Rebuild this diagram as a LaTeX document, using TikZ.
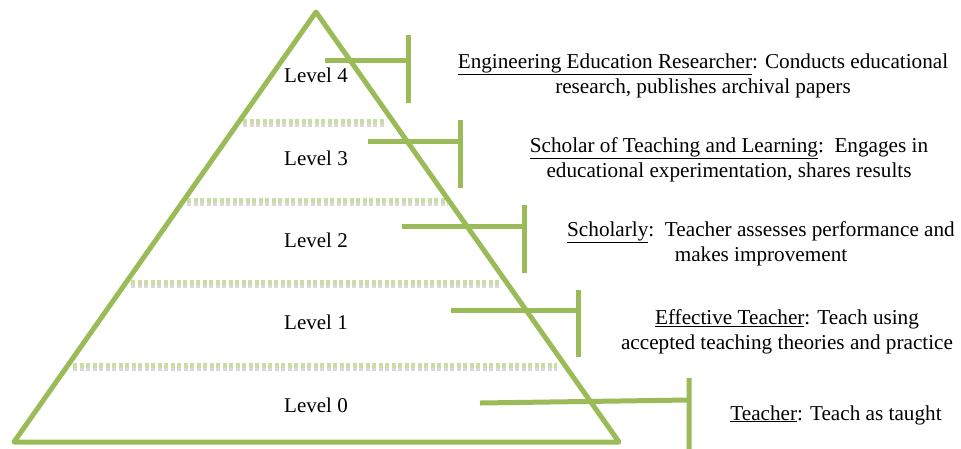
\documentclass[tikz,border=0pt]{standalone}
\usepackage{fontspec}
\setmainfont{Liberation Serif}
\definecolor{olivegreen}{HTML}{9BBB59}
\definecolor{palegreen}{HTML}{CADDA6}
\begin{document}
\begin{tikzpicture}[x=1pt,y=-1pt,
  greenline/.style={draw=olivegreen, line width=5pt},
  dotline/.style={draw=palegreen, line width=5pt, dash pattern=on 4pt off 2.5pt},
  dotshadow/.style={draw=black!15, line width=6pt, dash pattern=on 4pt off 2.5pt},
  levellabel/.style={font=\fontsize{21}{25}\selectfont},
  desc/.style={align=center, font=\fontsize{21.2}{25}\selectfont, inner sep=0pt}]
\useasboundingbox (0,0) rectangle (961,448);
% pyramid
\coordinate (top) at (316,12);
\coordinate (bl) at (14,442);
\coordinate (br) at (619,442);
% level separators
\draw[dotshadow] (243,124)--(386,124);
\draw[dotline] (243,121)--(386,121);
\draw[dotshadow] (187,203)--(448,203);
\draw[dotline] (187,200)--(448,200);
\draw[dotshadow] (131,285)--(500,285);
\draw[dotline] (131,282)--(500,282);
\draw[dotshadow] (73,368)--(557,368);
\draw[dotline] (73,365)--(557,365);
\draw[greenline, line join=round] (top)--(br)--(bl)--cycle;
\node[levellabel] (l4) at (316,75) {Level 4};
\node[levellabel] (l3) at (316,158) {Level 3};
\node[levellabel] (l2) at (316,240) {Level 2};
\node[levellabel] (l1) at (316,322) {Level 1};
\node[levellabel] (l0) at (316,405) {Level 0};
% brackets
\coordinate (a4) at (325,60);
\coordinate (b4) at (408,60);
\draw[greenline] (a4)--(b4) (408,35)--(408,103);
\coordinate (a3) at (368,141);
\coordinate (b3) at (460,141);
\draw[greenline] (a3)--(b3) (460,120)--(460,188);
\coordinate (a2) at (402,226);
\coordinate (b2) at (524,226);
\draw[greenline] (a2)--(b2) (524,205)--(524,273);
\coordinate (a1) at (451,310);
\coordinate (b1) at (578,310);
\draw[greenline] (a1)--(b1) (578,290)--(578,357);
\coordinate (a0) at (480,403);
\coordinate (b0) at (689,400);
\draw[greenline] (a0)--(b0) (689,378)--(689,452);
% descriptions
\node[desc] (d4) at (703,75.5) {\underline{Engineering Education Researcher}: Conducts educational\\research, publishes archival papers};
\node[desc] (d3) at (729,159.5) {\underline{Scholar of Teaching and Learning}:\ \ Engages in\\educational experimentation, shares results};
\node[desc] (d2) at (761,243.5) {\underline{Scholarly}:\ \ Teacher assesses performance and\\makes improvement};
\node[desc] (d1) at (787,331.5) {\underline{Effective Teacher}: Teach using\\accepted teaching theories and practice};
\node[desc] (d0) at (836,415) {\underline{Teacher}: Teach as taught};
\end{tikzpicture}
\end{document}
